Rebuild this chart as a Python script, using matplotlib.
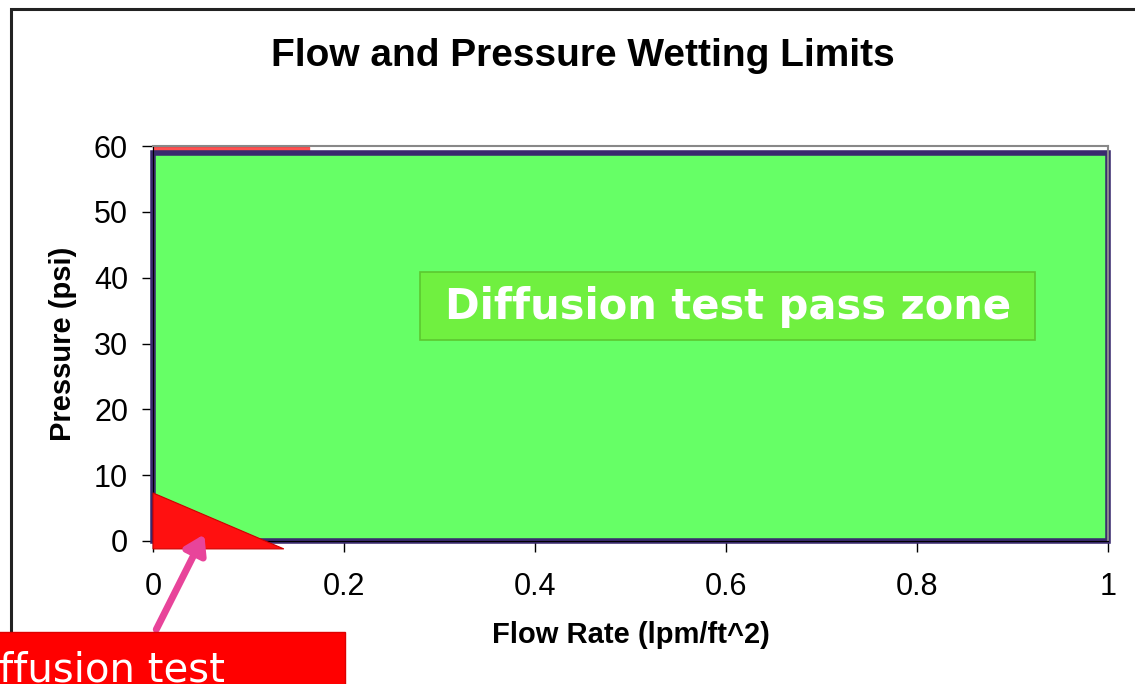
import matplotlib.pyplot as plt
from matplotlib.patches import Rectangle, Polygon

# data
pass_x = [0, 1]
pass_top = 59.0
fail_x = [0, 0, 0.137]
fail_y = [-1.2, 7.3, -1.2]
strip_x = [0, 0.163]
strip_lo = 59.1
strip_hi = 59.8
xticks = [0, 0.2, 0.4, 0.6, 0.8, 1]
xticklabels = ['0', '0.2', '0.4', '0.6', '0.8', '1']
yticks = [0, 10, 20, 30, 40, 50, 60]

plt.rcParams['font.family'] = ['Liberation Sans', 'DejaVu Sans']

fig = plt.figure(figsize=(11.35, 6.84), dpi=100)
ax = fig.add_axes([153 / 1135, 143 / 684, 955 / 1135, 395 / 684])

# figure frame (cut off by the image edge on right and bottom)
fig.patches.append(Rectangle((11 / 1135, -0.2), 1.2, (675 / 684) + 0.2,
                             transform=fig.transFigure, fill=False,
                             edgecolor='#222222', linewidth=2.2, zorder=0))

# pass zone
ax.add_patch(Rectangle((pass_x[0], 0), pass_x[1] - pass_x[0], pass_top,
                       facecolor='#66ff66', edgecolor='#3a2a6e',
                       linewidth=4, zorder=2, clip_on=False))

# thin red strip on top
ax.fill_between(strip_x, strip_lo, strip_hi, color='#ff5050', zorder=1,
                clip_on=False)
ax.plot(strip_x, [strip_hi + 0.2] * 2, color='black', linewidth=0.8,
        zorder=1, clip_on=False)

# fail zone triangle
ax.add_patch(Polygon(list(zip(fail_x, fail_y)), closed=True,
                     facecolor='#ff1010', edgecolor='#cc0000', linewidth=0.8,
                     zorder=3, clip_on=False))

# pass zone label
ax.add_patch(Rectangle((0.28, 30.5), 0.644, 10.4, facecolor='#70f040',
                       edgecolor='#5cc830', linewidth=1.2, zorder=4))
ax.text(0.602, 35.6, 'Diffusion test pass zone', ha='center', va='center',
        color='white', fontsize=30, fontweight='bold',
        family=['DejaVu Sans'], zorder=5)

ax.set_xlim(0, 1)
ax.set_ylim(0, 60)
ax.set_xticks(xticks)
ax.set_xticklabels(xticklabels)
ax.set_yticks(yticks)
ax.tick_params(axis='both', labelsize=22, direction='out', length=8,
               width=1, color='black')
ax.tick_params(axis='x', pad=14)
ax.tick_params(axis='y', pad=10)

for side in ['top', 'right']:
    ax.spines[side].set_color('#888888')
    ax.spines[side].set_linewidth(1.5)
ax.spines['left'].set_color('black')
ax.spines['bottom'].set_color('black')

ax.set_xlabel('Flow Rate (lpm/ft^2)', fontsize=21, fontweight='bold',
              labelpad=14)
ax.set_ylabel('Pressure (psi)', fontsize=21, fontweight='bold', labelpad=12)
fig.text(583 / 1135, 1 - 56 / 684, 'Flow and Pressure Wetting Limits',
         ha='center', va='center', fontsize=28, fontweight='bold')

# fail zone label box (cut off at image edge)
fig.patches.append(Rectangle((-0.05, -0.1), 345 / 1135 + 0.05,
                             52 / 684 + 0.1, transform=fig.transFigure,
                             facecolor='#ff0000', edgecolor='#dd0000',
                             zorder=5))
fig.text(225 / 1135, 2 / 684, 'Diffusion test', ha='right', va='baseline',
         color='white', fontsize=29, family=['DejaVu Sans'], zorder=6)

# arrow pointing to the fail zone
ax.annotate('', xy=(0.055, 1.4), xycoords='data',
            xytext=(155, 52), textcoords='figure pixels',
            arrowprops=dict(arrowstyle='-|>,head_length=1.1,head_width=0.7',
                            color='#e8449a', linewidth=5),
            zorder=7, annotation_clip=False)

fig.savefig('out.png', dpi=100)
